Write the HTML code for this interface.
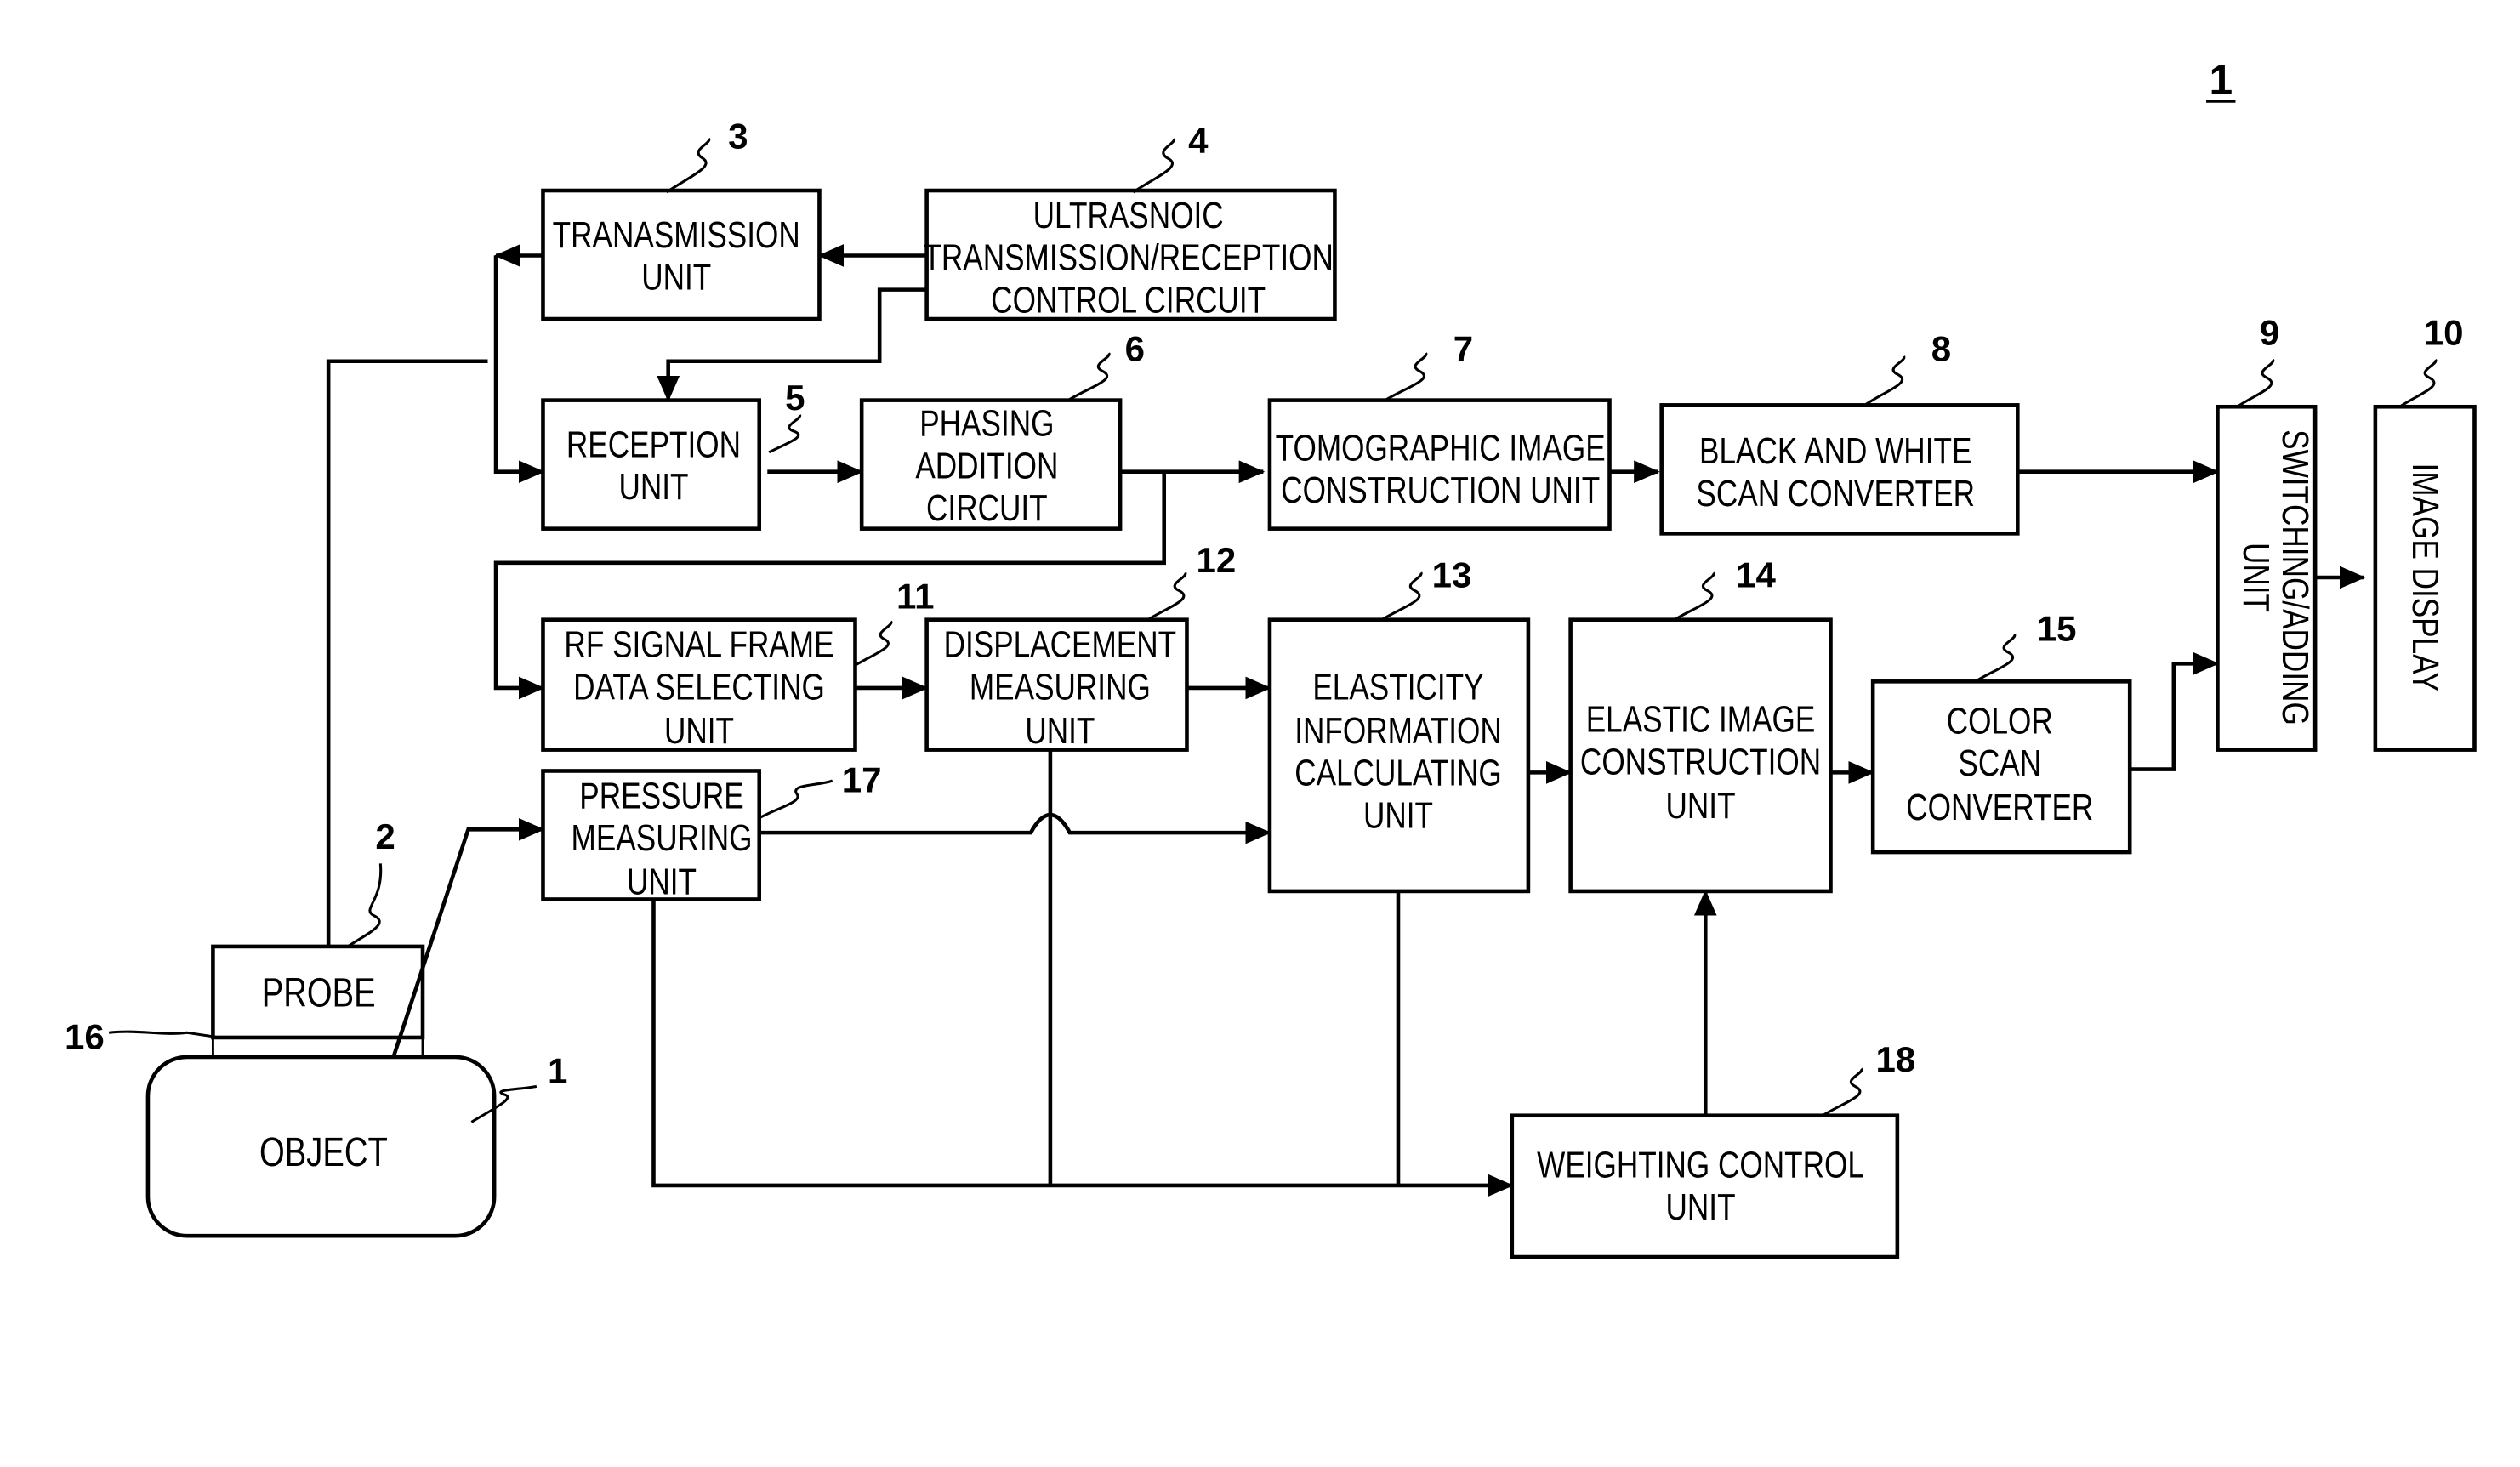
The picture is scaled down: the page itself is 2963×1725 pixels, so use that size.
<!DOCTYPE html>
<html><head><meta charset="utf-8"><style>
html,body{margin:0;padding:0;background:#fff;}
svg{display:block;}
text{font-family:"Liberation Sans",sans-serif;font-size:23px;fill:#000;}
text.c{transform-box:fill-box;transform-origin:center;transform:scaleX(0.8);}
.n{font-weight:bold;font-size:22px;}
</style></head><body>
<svg width="2963" height="1725" viewBox="0 0 1550 902" xmlns="http://www.w3.org/2000/svg">
<defs><marker id="b" markerWidth="16" markerHeight="14" refX="15" refY="7" orient="auto" markerUnits="userSpaceOnUse"><path d="M0,0 L16,7 L0,14 Z" fill="#000"/></marker></defs>
<g fill="none" stroke="#000" stroke-width="2.4">
<rect x="334" y="117" width="170" height="79"/>
<rect x="570" y="117" width="251" height="79"/>
<rect x="334" y="246" width="133" height="79"/>
<rect x="530" y="246" width="159" height="79"/>
<rect x="781" y="246" width="209" height="79"/>
<rect x="1022" y="249" width="219" height="79"/>
<rect x="1364" y="250" width="60" height="211"/>
<rect x="1461" y="250" width="61" height="211"/>
<rect x="334" y="381" width="192" height="80"/>
<rect x="570" y="381" width="160" height="80"/>
<rect x="781" y="381" width="159" height="167"/>
<rect x="966" y="381" width="160" height="167"/>
<rect x="1152" y="419" width="158" height="105"/>
<rect x="334" y="474" width="133" height="79"/>
<rect x="930" y="686" width="237" height="87"/>
<rect x="131" y="582" width="129" height="56"/>
<rect x="131" y="638" width="129" height="12" stroke-width="1.5"/>
<rect x="91" y="650" width="213" height="110" rx="24"/>
</g>
<g fill="none" stroke="#000" stroke-width="2.4">
<path d="M570,157 H504" marker-end="url(#b)"/>
<path d="M570,178 H541 V222 H411 V246" marker-end="url(#b)"/>
<path d="M334,157 H305" marker-end="url(#b)"/>
<path d="M305,157 V290 H334" marker-end="url(#b)"/>
<path d="M202,582 V222 H300"/>
<path d="M472,290 H530" marker-end="url(#b)"/>
<path d="M689,290 H777" marker-end="url(#b)"/>
<path d="M716,290 V346 H305 V423 H334" marker-end="url(#b)"/>
<path d="M990,290 H1020" marker-end="url(#b)"/>
<path d="M1241,290 H1364" marker-end="url(#b)"/>
<path d="M526,423 H570" marker-end="url(#b)"/>
<path d="M730,423 H781" marker-end="url(#b)"/>
<path d="M940,475 H966" marker-end="url(#b)"/>
<path d="M1126,475 H1152" marker-end="url(#b)"/>
<path d="M1310,473 H1337 V408 H1364" marker-end="url(#b)"/>
<path d="M1424,355 H1454" marker-end="url(#b)"/>
<path d="M467,512 H634 Q646,490 658,512 H781" marker-end="url(#b)"/>
<path d="M646,461 V729"/>
<path d="M402,553 V729 H930" marker-end="url(#b)"/>
<path d="M860,548 V729"/>
<path d="M1049,686 V548" marker-end="url(#b)"/>
<path d="M242,650 L288,510 H334" marker-end="url(#b)"/>
</g>
<g fill="none" stroke="#000" stroke-width="1.6">
<path d="M410,118 C425,108 440,102 432,97 C424,92 438,88 436,85"/>
<path d="M697,118 C712,108 728,102 718,97 C710,92 724,88 722,85"/>
<path d="M473,278 C485,272 497,268 488,265 C480,262 493,258 492,255"/>
<path d="M657,246 C670,238 688,233 678,228 C670,224 684,220 682,217"/>
<path d="M852,246 C865,238 883,233 873,228 C865,224 879,220 877,217"/>
<path d="M1147,249 C1160,240 1177,235 1167,230 C1159,226 1173,222 1171,219"/>
<path d="M1376,250 C1388,242 1404,237 1394,232 C1386,228 1400,224 1398,221"/>
<path d="M1476,250 C1488,242 1504,237 1494,232 C1486,228 1500,224 1498,221"/>
<path d="M526,409 C538,402 552,397 544,393 C536,389 550,385 548,382"/>
<path d="M706,381 C719,373 735,368 725,363 C717,359 731,355 729,352"/>
<path d="M850,381 C863,373 880,368 870,363 C862,359 876,355 874,352"/>
<path d="M1030,381 C1043,373 1060,368 1050,363 C1042,359 1056,355 1054,352"/>
<path d="M1215,419 C1228,411 1245,406 1235,401 C1227,397 1241,393 1239,390"/>
<path d="M467,503 C480,496 494,493 490,488 C486,482 505,483 512,480"/>
<path d="M214,582 C226,574 240,568 230,563 C222,559 236,554 234,531"/>
<path d="M1121,686 C1134,678 1151,673 1141,668 C1133,664 1147,660 1145,657"/>
<path d="M290,690 C303,682 318,675 310,673 C302,670 320,670 330,668"/>
<path d="M67,635 C85,633 100,637 115,635 L135,638"/>
</g>
<g text-anchor="middle">
<text class="c" x="416" y="152">TRANASMISSION</text><text class="c" x="416" y="178">UNIT</text>
<text class="c" x="694" y="140">ULTRASNOIC</text><text class="c" x="694" y="166">TRANSMISSION/RECEPTION</text><text class="c" x="694" y="192">CONTROL CIRCUIT</text>
<text class="c" x="402" y="281">RECEPTION</text><text class="c" x="402" y="307">UNIT</text>
<text class="c" x="607" y="268">PHASING</text><text class="c" x="607" y="294">ADDITION</text><text class="c" x="607" y="320">CIRCUIT</text>
<text class="c" x="886" y="283">TOMOGRAPHIC IMAGE</text><text class="c" x="886" y="309">CONSTRUCTION UNIT</text>
<text class="c" x="1129" y="285">BLACK AND WHITE</text><text class="c" x="1129" y="311">SCAN CONVERTER</text>
<text class="c" x="430" y="404">RF SIGNAL FRAME</text><text class="c" x="430" y="430">DATA SELECTING</text><text class="c" x="430" y="457">UNIT</text>
<text class="c" x="652" y="404">DISPLACEMENT</text><text class="c" x="652" y="430">MEASURING</text><text class="c" x="652" y="457">UNIT</text>
<text class="c" x="860" y="430">ELASTICITY</text><text class="c" x="860" y="457">INFORMATION</text><text class="c" x="860" y="483">CALCULATING</text><text class="c" x="860" y="509">UNIT</text>
<text class="c" x="1046" y="450">ELASTIC IMAGE</text><text class="c" x="1046" y="476">CONSTRUCTION</text><text class="c" x="1046" y="503">UNIT</text>
<text class="c" x="1230" y="451">COLOR</text><text class="c" x="1230" y="477">SCAN</text><text class="c" x="1230" y="504">CONVERTER</text>
<text class="c" x="407" y="497">PRESSURE</text><text class="c" x="407" y="523">MEASURING</text><text class="c" x="407" y="550">UNIT</text>
<text class="c" x="1046" y="724">WEIGHTING CONTROL</text><text class="c" x="1046" y="750">UNIT</text>
<text class="c" x="196" y="619" style="font-size:25px">PROBE</text>
<text class="c" x="199" y="717" style="font-size:25px">OBJECT</text>
<g transform="translate(1398,355) rotate(90)"><text class="c" x="0" y="-6">SWITCHING/ADDING</text><text class="c" x="0" y="18">UNIT</text></g>
<g transform="translate(1484,355) rotate(90)"><text class="c" x="0" y="0">IMAGE DISPLAY</text></g>
<text class="n" x="454" y="91">3</text><text class="n" x="737" y="94">4</text>
<text class="n" x="489" y="252">5</text><text class="n" x="698" y="222">6</text>
<text class="n" x="900" y="222">7</text><text class="n" x="1194" y="222">8</text>
<text class="n" x="1396" y="212">9</text><text class="n" x="1503" y="212">10</text>
<text class="n" x="563" y="374">11</text><text class="n" x="748" y="352">12</text>
<text class="n" x="893" y="361">13</text><text class="n" x="1080" y="361">14</text>
<text class="n" x="1265" y="394">15</text><text class="n" x="530" y="487">17</text>
<text class="n" x="237" y="522">2</text><text class="n" x="1166" y="659">18</text>
<text class="n" x="343" y="666">1</text><text class="n" x="52" y="645">16</text>
<text class="n" x="1366" y="58" style="font-size:26px">1</text>
</g>
<path d="M1357,62 H1375" stroke="#000" stroke-width="2"/>
</svg>
</body></html>
